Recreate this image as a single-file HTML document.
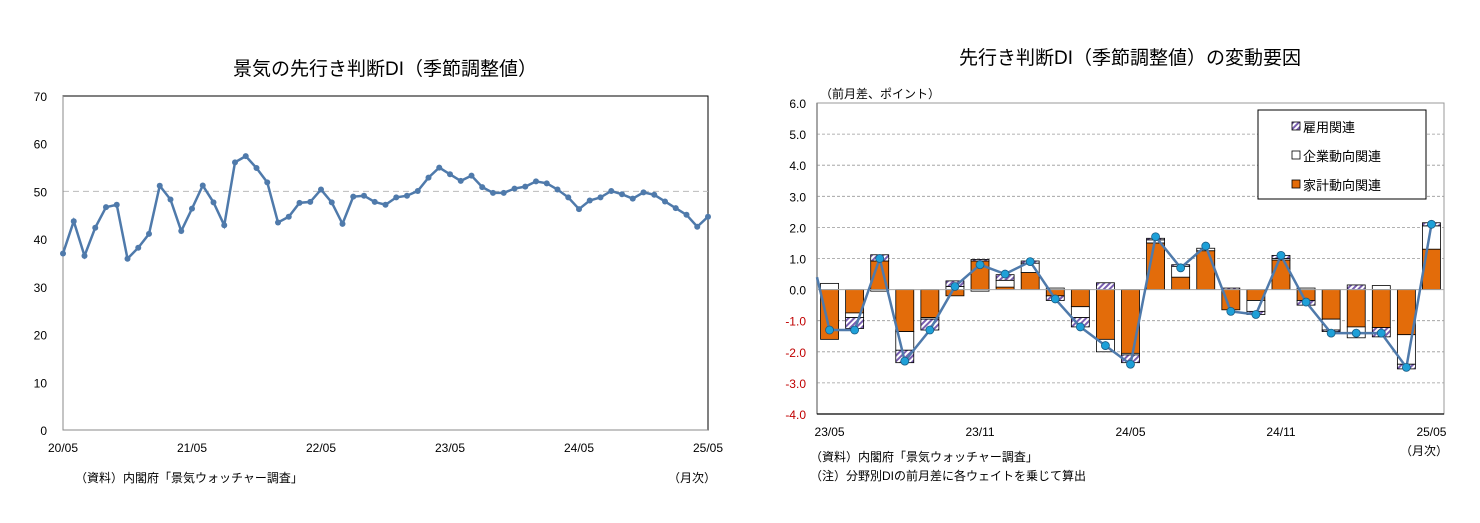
<!DOCTYPE html>
<html><head><meta charset="utf-8">
<style>
body{margin:0;background:#fff;}
svg{display:block;font-family:"Liberation Sans","Noto Sans CJK JP",sans-serif;}
</style></head>
<body>
<svg id="c" width="1480" height="523" viewBox="0 0 1480 523">
<text x="385" y="75" font-size="19" text-anchor="middle">景気の先行き判断DI（季節調整値）</text>
<text x="1130" y="64" font-size="19" text-anchor="middle">先行き判断DI（季節調整値）の変動要因</text>
<text x="820" y="98" font-size="12">（前月差、ポイント）</text>
<text x="75" y="482" font-size="12">（資料）内閣府「景気ウォッチャー調査」</text>
<text x="668" y="482" font-size="12">（月次）</text>
<text x="810" y="461" font-size="12">（資料）内閣府「景気ウォッチャー調査」</text>
<text x="810" y="480" font-size="12">（注）分野別DIの前月差に各ウェイトを乗じて算出</text>
<text x="1400" y="455" font-size="12">（月次）</text>
<defs>
<pattern id="hatch" width="4" height="4" patternUnits="userSpaceOnUse" patternTransform="rotate(45)">
<rect width="4" height="4" fill="#fff"/><rect width="2" height="4" fill="#7a5fb0"/></pattern>
</defs>
<g id="L"></g><g id="R"></g>
</svg>
<script>
const leftLabels=["20/05","21/05","22/05","23/05","24/05","25/05"];
const leftTicks=[0,10,20,30,40,50,60,70];
const diValues=[37.0,43.75,36.5,42.4,46.7,47.2,35.9,38.2,41.1,51.2,48.3,41.7,46.4,51.25,47.7,42.9,56.1,57.4,54.9,51.9,43.5,44.7,47.6,47.8,50.4,47.7,43.2,48.9,49.1,47.8,47.2,48.75,
49.1,50.1,52.9,55.0,53.6,52.2,53.3,50.9,49.7,49.7,50.6,51.0,52.1,51.7,50.4,48.75,46.3,48.1,48.75,50.1,49.4,48.5,49.8,49.3,47.9,46.5,45.1,42.6,44.7];

const rightLabels=["23/05","23/11","24/05","24/11","25/05"];
const rightTicks=[6,5,4,3,2,1,0,-1,-2,-3,-4];
const household=[-1.6,-0.75,0.92,-1.35,-0.9,-0.2,0.92,0.08,0.55,-0.2,-0.55,-1.6,-2.05,1.5,0.4,1.25,-0.65,-0.35,0.95,-0.35,-0.95,-1.2,-1.22,-1.45,1.3];
const corporate=[0.2,-0.15,-0.05,-0.6,-0.05,0.1,-0.05,0.22,0.3,0.05,-0.35,-0.4,-0.05,0.1,0.35,0.08,0.0,-0.35,0.05,0.05,-0.35,-0.35,0.13,-0.95,0.75];
const employment=[0.0,-0.35,0.2,-0.4,-0.35,0.18,0.05,0.18,0.07,-0.15,-0.3,0.22,-0.25,0.05,0.05,0.0,0.05,-0.1,0.1,-0.15,-0.05,0.15,-0.3,-0.15,0.1];
const totalDI=[-1.3,-1.3,1.0,-2.3,-1.3,0.1,0.8,0.5,0.9,-0.3,-1.2,-1.8,-2.4,1.7,0.7,1.4,-0.7,-0.8,1.1,-0.4,-1.4,-1.4,-1.4,-2.5,2.1];
const prevTotal=0.4;

const NS="http://www.w3.org/2000/svg";
function mk(p,t,a){const e=document.createElementNS(NS,t);for(const k in a)e.setAttribute(k,a[k]);p.appendChild(e);return e;}
// LEFT
const L=document.getElementById('L');
const lx0=63,lx1=708,ly0=430,ly1=96;
const lx=i=>lx0+(lx1-lx0)*i/(diValues.length-1);
const ly=v=>ly0-(ly0-ly1)*v/70;
let e=mk(L,'rect',{x:lx0,y:ly1,width:lx1-lx0,height:ly0-ly1,fill:'none',stroke:'#000','stroke-width':1});

e=mk(L,'line',{x1:lx0,x2:lx1,y1:ly(50),y2:ly(50),stroke:'#bbb','stroke-dasharray':'6,4'});

e=mk(L,'path',{d:`M${lx0},${ly1}V${ly0}H${lx1}`,stroke:'#888',fill:'none'});

leftTicks.forEach(v=>{const t=mk(L,'text',{x:47,y:ly(v)+5,'font-size':12,'text-anchor':'end'});t.textContent=v;
});
leftLabels.forEach((s,k)=>{const t=mk(L,'text',{x:lx(k*12),y:452,'font-size':12,'text-anchor':'middle'});t.textContent=s;
});
e=mk(L,'polyline',{points:diValues.map((v,i)=>lx(i)+','+ly(v)).join(' '),fill:'none',stroke:'#4f7aab','stroke-width':2.5});

diValues.forEach((v,i)=>{const c=mk(L,'circle',{cx:lx(i),cy:ly(v),r:3,fill:'#4f7aab'});
});
// RIGHT
const R=document.getElementById('R');
const rx0=817,rx1=1444,ry6=103,ryn4=414;
const ry=v=>ry6+(ryn4-ry6)*(6-v)/10;
const slot=(rx1-rx0)/totalDI.length;
const rx=i=>rx0+slot*(i+0.5);
rightTicks.forEach(v=>{
 if(v!==6&&v!==-4&&v!==0){const g=mk(R,'line',{x1:rx0,x2:rx1,y1:ry(v),y2:ry(v),stroke:'#999','stroke-dasharray':'3,2','stroke-width':0.8});
 }
 const t=mk(R,'text',{x:806,y:ry(v)+5,'font-size':12,'text-anchor':'end',fill:v<0?'#c00000':'#000'});t.textContent=v.toFixed(1);
 });
e=mk(R,'rect',{x:rx0,y:ry6,width:rx1-rx0,height:ryn4-ry6,fill:'none',stroke:'#999'});

e=mk(R,'line',{x1:rx0,x2:rx0,y1:ry6,y2:ryn4,stroke:'#888','stroke-width':1.5});

e=mk(R,'line',{x1:rx0,x2:rx1,y1:ryn4,y2:ryn4,stroke:'#000','stroke-width':1.2});

const bw=18;
totalDI.forEach((tt,i)=>{
 let pos=0,neg=0;
 [[household[i],'#e36c0a','household-bar'],[corporate[i],'#fff','corporate-bar'],[employment[i],'url(#hatch)','employment-bar']].forEach(([v,f,n])=>{
  if(Math.abs(v)<1e-9)return;
  let a,b;if(v>0){a=pos;b=pos+v;pos=b;}else{a=neg;b=neg+v;neg=b;}
  const r=mk(R,'rect',{x:rx(i)-bw/2,y:ry(Math.max(a,b)),width:bw,height:Math.abs(ry(a)-ry(b)),fill:f,stroke:'#000','stroke-width':0.8});
  
 });
});
e=mk(R,'line',{x1:rx0,x2:rx1,y1:ry(0),y2:ry(0),stroke:'#aaa','stroke-width':1});

e=mk(R,'polyline',{points:rx0+','+ry(prevTotal)+' '+totalDI.map((v,i)=>rx(i)+','+ry(v)).join(' '),fill:'none',stroke:'#4f7aab','stroke-width':2.5});

totalDI.forEach((v,i)=>{const c=mk(R,'circle',{cx:rx(i),cy:ry(v),r:4,fill:'#1ea0d8',stroke:'#1b5c85','stroke-width':0.8});
});
rightLabels.forEach((s,k)=>{const t=mk(R,'text',{x:rx(k*6),y:436,'font-size':12,'text-anchor':'middle'});t.textContent=s;
});
// legend
const lg=mk(R,'g',{});

mk(lg,'rect',{x:1258,y:110,width:168,height:89,fill:'#fff',stroke:'#000'});
[['url(#hatch)','雇用関連','legend-employment'],['#fff','企業動向関連','legend-corporate'],['#e36c0a','家計動向関連','legend-household']].forEach(([f,s,n],k)=>{
 const g=mk(lg,'g',{});
 const y=127+k*29;
 mk(g,'rect',{x:1292,y:y-5,width:8,height:8,fill:f,stroke:'#000','stroke-width':0.8});
 const t=mk(g,'text',{x:1303,y:y+5,'font-size':13});t.textContent=s;
});
</script>
</body></html>
